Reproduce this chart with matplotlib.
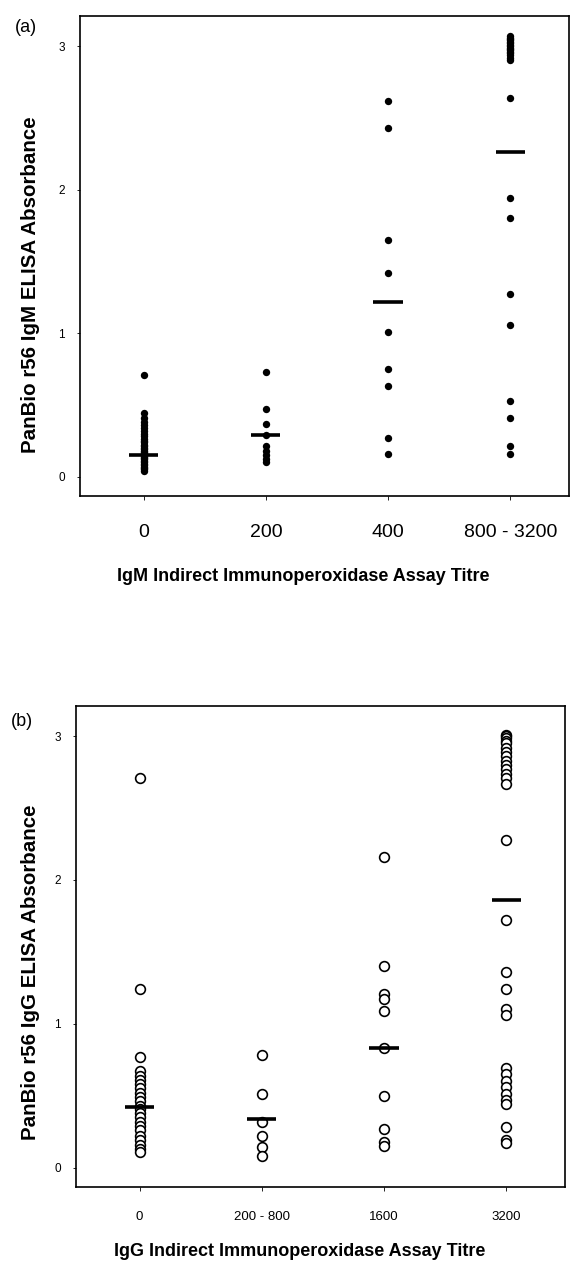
import numpy as np
import matplotlib
matplotlib.use("Agg")
import matplotlib.pyplot as plt

plt.rcParams['font.family'] = ['Liberation Sans', 'DejaVu Sans']

# ---------------- data: panel (a) IgM ----------------
igm_categories = ['0', '200', '400', '800 - 3200']
igm_0 = [0.71, 0.44, 0.41, 0.38, 0.36, 0.34, 0.32, 0.30, 0.28, 0.26, 0.25, 0.24,
         0.22, 0.21, 0.20, 0.19, 0.18, 0.17, 0.16, 0.15, 0.15, 0.14, 0.13, 0.12,
         0.11, 0.10, 0.09, 0.08, 0.07, 0.06, 0.05, 0.04]
igm_200 = [0.73, 0.47, 0.37, 0.29, 0.21, 0.18, 0.15, 0.12, 0.10]
igm_400 = [2.62, 2.43, 1.65, 1.42, 1.01, 0.75, 0.63, 0.27, 0.16]
igm_800_3200 = [3.07, 3.06, 3.05, 3.04, 3.03, 3.02, 3.01, 3.00, 2.99, 2.98, 2.97,
                2.96, 2.95, 2.94, 2.92, 2.90, 2.64, 1.94, 1.80, 1.27, 1.06,
                0.53, 0.41, 0.21, 0.16]
igm_medians = [0.15, 0.29, 1.22, 2.26]

# ---------------- data: panel (b) IgG ----------------
igg_categories = ['0', '200 - 800', '1600', '3200']
igg_0 = [2.71, 1.24, 0.77, 0.67, 0.64, 0.61, 0.58, 0.55, 0.52, 0.49, 0.46, 0.43,
         0.41, 0.38, 0.35, 0.32, 0.29, 0.26, 0.22, 0.19, 0.16, 0.13, 0.11]
igg_200_800 = [0.78, 0.51, 0.32, 0.22, 0.14, 0.08]
igg_1600 = [2.16, 1.40, 1.21, 1.17, 1.09, 0.83, 0.50, 0.27, 0.18, 0.15]
igg_3200 = [3.01, 3.00, 2.99, 2.97, 2.95, 2.92, 2.89, 2.86, 2.83, 2.80, 2.77,
            2.74, 2.71, 2.67, 2.28, 1.72, 1.36, 1.24, 1.10, 1.06, 0.69, 0.65,
            0.60, 0.56, 0.51, 0.47, 0.44, 0.28, 0.19, 0.17]
igg_medians = [0.42, 0.34, 0.83, 1.86]

W, H = 570, 1263
fig = plt.figure(figsize=(W / 100, H / 100), dpi=100)
fig.patch.set_facecolor('white')


def px_axes(left, top, right, bottom):
    return fig.add_axes([left / W, 1 - bottom / H, (right - left) / W, (bottom - top) / H])


def style_axes(ax, cats, xtick_size, pad_x):
    ax.set_xlim(-0.52, 3.48)
    ax.set_ylim(-0.135, 3.21)
    ax.set_yticks([0, 1, 2, 3])
    ax.set_yticklabels(['0', '1', '2', '3'])
    ax.set_xticks(range(len(cats)))
    ax.set_xticklabels(cats)
    ax.tick_params(axis='y', length=2, width=0.6, pad=9, labelsize=8.5)
    ax.tick_params(axis='x', length=3, width=0.6, pad=pad_x, labelsize=xtick_size)
    for s in ax.spines.values():
        s.set_linewidth(1.2)
        s.set_color('black')


# ---------------- panel (a) ----------------
axa = px_axes(80, 16, 569, 496)
for i, vals in enumerate([igm_0, igm_200, igm_400, igm_800_3200]):
    axa.plot(np.full(len(vals), i), vals, 'o', color='black', markersize=5.3,
             markeredgewidth=0, zorder=3)
axa.hlines(igm_medians, np.arange(4) - 0.12, np.arange(4) + 0.12,
           color='black', linewidth=2.6, zorder=4)
style_axes(axa, igm_categories, 14, 17)
axa.set_xlabel('IgM Indirect Immunoperoxidase Assay Titre', fontsize=13,
               fontweight='bold')
axa.xaxis.set_label_coords(0.456, -0.168)
axa.xaxis.label.set_va('center')
axa.set_ylabel('PanBio r56 IgM ELISA Absorbance', fontsize=14.8, fontweight='bold')
axa.yaxis.set_label_coords(-0.102, 0.44)
axa.yaxis.label.set_va('center')
fig.text(26 / W, 1 - 28 / H, '(a)', fontsize=13, ha='center', va='center')

# ---------------- panel (b) ----------------
axb = px_axes(76, 706, 565, 1187)
for i, vals in enumerate([igg_0, igg_200_800, igg_1600, igg_3200]):
    axb.plot(np.full(len(vals), i), vals, 'o', markerfacecolor='white',
             markeredgecolor='black', markersize=7, markeredgewidth=1.2, zorder=3)
axb.hlines(igg_medians, np.arange(4) - 0.12, np.arange(4) + 0.12,
           color='black', linewidth=2.6, zorder=4)
style_axes(axb, igg_categories, 9.5, 14)
axb.set_xlabel('IgG Indirect Immunoperoxidase Assay Titre', fontsize=13,
               fontweight='bold')
axb.xaxis.set_label_coords(0.458, -0.134)
axb.xaxis.label.set_va('center')
axb.set_ylabel('PanBio r56 IgG ELISA Absorbance', fontsize=14.8, fontweight='bold')
axb.yaxis.set_label_coords(-0.094, 0.447)
axb.yaxis.label.set_va('center')
fig.text(22 / W, 1 - 722 / H, '(b)', fontsize=13, ha='center', va='center')

fig.savefig('out.png', dpi=100, facecolor='white')
